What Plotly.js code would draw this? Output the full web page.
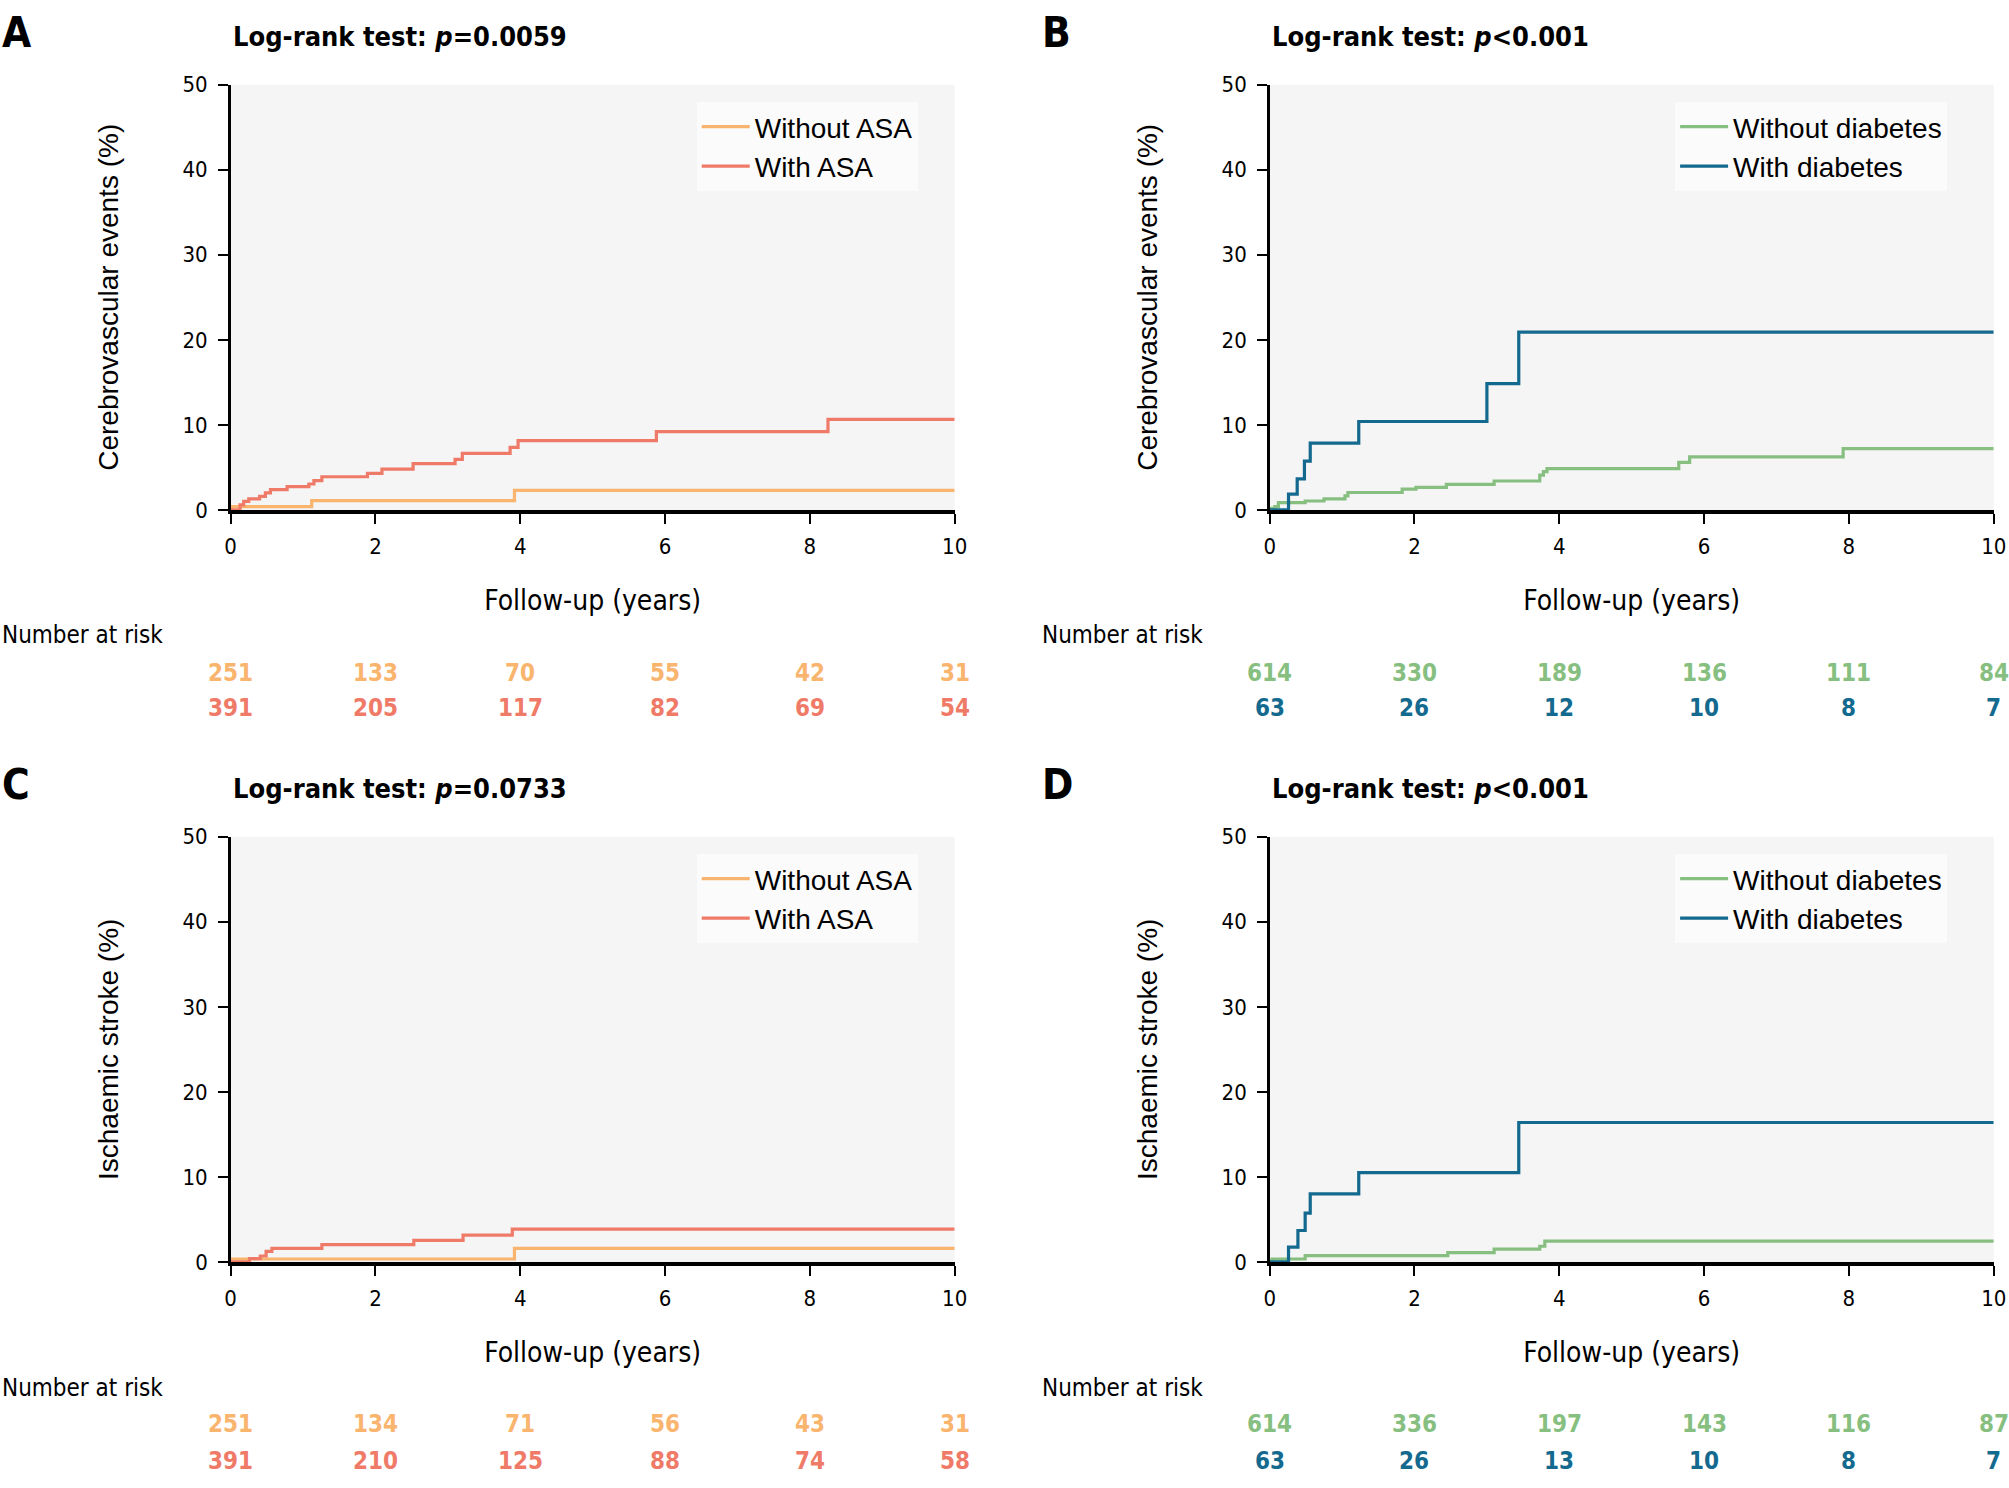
<!DOCTYPE html>
<html>
<head>
<meta charset="utf-8">
<script src="https://cdn.plot.ly/plotly-3.0.1.min.js"></script>
<style>
  html, body { margin: 0; padding: 0; background: #ffffff; }
  #chart { width: 2009px; height: 1488px; }
</style>
</head>
<body>
<div id="chart"></div>
<script>
// ---------- data ----------
const yearTicks = [0, 2, 4, 6, 8, 10];

// Panel A – cerebrovascular events, ASA
const aWithoutX = [0, 0.02, 1.12, 3.92, 10];
const aWithoutY = [0, 0.4, 1.1, 2.3, 2.3];
const aWithX = [0, 0.13, 0.18, 0.25, 0.40, 0.48, 0.55, 0.78, 1.08, 1.15, 1.26, 1.89, 2.09, 2.52, 3.10, 3.20, 3.86, 3.97, 5.88, 8.25, 10];
const aWithY = [0, 0.6, 1.0, 1.3, 1.6, 2.0, 2.4, 2.75, 3.05, 3.45, 3.9, 4.3, 4.8, 5.45, 5.95, 6.65, 7.35, 8.15, 9.2, 10.65, 10.65];

// Panel B – cerebrovascular events, diabetes
const bWithoutX = [0, 0.02, 0.07, 0.12, 0.49, 0.75, 1.04, 1.08, 1.83, 2.02, 2.44, 3.10, 3.73, 3.78, 3.83, 5.65, 5.80, 7.92, 10];
const bWithoutY = [0, 0.2, 0.4, 0.85, 1.05, 1.3, 1.65, 2.05, 2.45, 2.65, 3.0, 3.4, 4.1, 4.5, 4.85, 5.6, 6.25, 7.2, 7.2];
const bWithX = [0, 0.26, 0.38, 0.48, 0.56, 1.23, 3.00, 3.44, 10];
const bWithY = [0, 1.85, 3.65, 5.75, 7.85, 10.4, 14.85, 20.9, 20.9];

// Panel C – ischaemic stroke, ASA
const cWithoutX = [0, 0.02, 3.92, 10];
const cWithoutY = [0, 0.35, 1.6, 1.6];
const cWithX = [0, 0.26, 0.41, 0.49, 0.57, 1.26, 2.53, 3.21, 3.89, 10];
const cWithY = [0, 0.4, 0.7, 1.25, 1.6, 2.05, 2.55, 3.15, 3.85, 3.85];

// Panel D – ischaemic stroke, diabetes
const dWithoutX = [0, 0.03, 0.49, 2.46, 3.10, 3.73, 3.80, 10];
const dWithoutY = [0, 0.35, 0.75, 1.1, 1.5, 1.85, 2.45, 2.45];
const dWithX = [0, 0.26, 0.39, 0.49, 0.56, 1.23, 3.44, 10];
const dWithY = [0, 1.75, 3.7, 5.75, 8.0, 10.5, 16.4, 16.4];

// Numbers at risk
const riskAWithout = [251, 133, 70, 55, 42, 31];
const riskAWith    = [391, 205, 117, 82, 69, 54];
const riskBWithout = [614, 330, 189, 136, 111, 84];
const riskBWith    = [63, 26, 12, 10, 8, 7];
const riskCWithout = [251, 134, 71, 56, 43, 31];
const riskCWith    = [391, 210, 125, 88, 74, 58];
const riskDWithout = [614, 336, 197, 143, 116, 87];
const riskDWith    = [63, 26, 13, 10, 8, 7];

// Text
const panelLetters = ['A', 'B', 'C', 'D'];
const panelTitles = [
  'Log-rank test: <i>p</i>=0.0059',
  'Log-rank test: <i>p</i>&lt;0.001',
  'Log-rank test: <i>p</i>=0.0733',
  'Log-rank test: <i>p</i>&lt;0.001'
];
const yTitles = ['Cerebrovascular events (%)', 'Cerebrovascular events (%)', 'Ischaemic stroke (%)', 'Ischaemic stroke (%)'];
const xTitle = 'Follow-up (years)';
const seriesNames = [['Without ASA', 'With ASA'], ['Without diabetes', 'With diabetes'],
                     ['Without ASA', 'With ASA'], ['Without diabetes', 'With diabetes']];

// ---------- styling ----------
const COL_NOASA = '#F9B46E';
const COL_ASA = '#F07A68';
const COL_NODM = '#86BF80';
const COL_DM = '#13698E';
const COND = '"Liberation Sans Narrow", "DejaVu Sans Condensed", "Arial Narrow", sans-serif';
const SANS = '"Liberation Sans", Arial, sans-serif';

const panels = [
  { wx: aWithoutX, wy: aWithoutY, x: aWithX, y: aWithY, c0: COL_NOASA, c1: COL_ASA, r0: riskAWithout, r1: riskAWith },
  { wx: bWithoutX, wy: bWithoutY, x: bWithX, y: bWithY, c0: COL_NODM, c1: COL_DM, r0: riskBWithout, r1: riskBWith },
  { wx: cWithoutX, wy: cWithoutY, x: cWithX, y: cWithY, c0: COL_NOASA, c1: COL_ASA, r0: riskCWithout, r1: riskCWith },
  { wx: dWithoutX, wy: dWithoutY, x: dWithX, y: dWithY, c0: COL_NODM, c1: COL_DM, r0: riskDWithout, r1: riskDWith }
];

// geometry (paper fractions)
const xDomains = [[0.1148, 0.4752], [0.632, 0.9924]];
const yDomains = [[0.6573, 0.9431], [0.1519, 0.4377]];
const colLeft = [0, 0.5177];
const rowLetterY = [0.978, 0.473];
const rowTitleY = [0.9758, 0.4704];
const rowNarY = [0.573, 0.0675];
const rowRisk0Y = [0.5479, 0.0433];
const rowRisk1Y = [0.5239, 0.0183];
const legendY = [0.9315, 0.4261];
const legendX = [0.3468, 0.8338];

const traces = [];
const layout = {
  width: 2009, height: 1488,
  margin: { l: 0, r: 0, t: 0, b: 0 },
  paper_bgcolor: '#ffffff',
  plot_bgcolor: '#f5f5f5',
  showlegend: true,
  annotations: []
};

panels.forEach((p, i) => {
  const n = i + 1;
  const sfx = n === 1 ? '' : String(n);
  const col = i % 2, row = Math.floor(i / 2);
  const legendId = n === 1 ? 'legend' : 'legend' + n;

  traces.push({
    type: 'scatter', mode: 'lines', x: p.wx, y: p.wy,
    xaxis: 'x' + sfx, yaxis: 'y' + sfx,
    line: { shape: 'hv', color: p.c0, width: 3.2 },
    name: seriesNames[i][0], legend: legendId, hoverinfo: 'skip'
  });
  traces.push({
    type: 'scatter', mode: 'lines', x: p.x, y: p.y,
    xaxis: 'x' + sfx, yaxis: 'y' + sfx,
    line: { shape: 'hv', color: p.c1, width: 3.2 },
    name: seriesNames[i][1], legend: legendId, hoverinfo: 'skip'
  });

  layout['xaxis' + sfx] = {
    domain: xDomains[col], anchor: 'y' + sfx,
    range: [0, 10], tickvals: yearTicks, ticktext: yearTicks.map(String),
    ticks: 'outside', ticklen: 10, tickwidth: 2, tickcolor: '#000',
    showline: true, linecolor: '#000', linewidth: 4,
    showgrid: false, zeroline: false, fixedrange: true,
    ticklabelstandoff: 4,
    tickfont: { family: COND, size: 22, color: '#000' },
    title: { text: xTitle, font: { family: COND, size: 28, color: '#000' }, standoff: 33 }
  };
  layout['yaxis' + sfx] = {
    domain: yDomains[row], anchor: 'x' + sfx,
    range: [0, 50], tickvals: [0, 10, 20, 30, 40, 50],
    ticks: 'outside', ticklen: 10, tickwidth: 2, tickcolor: '#000',
    showline: true, linecolor: '#000', linewidth: 2.5,
    showgrid: false, zeroline: false, fixedrange: true,
    ticklabelstandoff: 6,
    tickfont: { family: COND, size: 22, color: '#000' },
    title: { text: yTitles[i], font: { family: SANS, size: 28, color: '#000' }, standoff: 56 }
  };

  layout[legendId] = {
    x: legendX[col], y: legendY[row], xanchor: 'left', yanchor: 'top',
    xref: 'paper', yref: 'paper',
    bgcolor: '#fbfbfb', borderwidth: 0,
    font: { family: SANS, size: 28, color: '#000' },
    itemwidth: 48, tracegroupgap: 0
  };

  // panel letter
  layout.annotations.push({
    xref: 'paper', yref: 'paper', x: colLeft[col], y: rowLetterY[row],
    xanchor: 'left', yanchor: 'middle', showarrow: false,
    text: panelLetters[i], font: { family: COND, size: 42, color: '#000', weight: 700 }
  });
  // panel title
  layout.annotations.push({
    xref: 'x' + sfx + ' domain', yref: 'paper', x: 0, y: rowTitleY[row],
    xanchor: 'left', yanchor: 'middle', showarrow: false,
    text: panelTitles[i], font: { family: COND, size: 27, color: '#000', weight: 700 }
  });
  // number at risk label
  layout.annotations.push({
    xref: 'paper', yref: 'paper', x: colLeft[col], y: rowNarY[row],
    xanchor: 'left', yanchor: 'middle', showarrow: false,
    text: 'Number at risk', font: { family: COND, size: 24, color: '#000' }
  });
  // risk numbers
  yearTicks.forEach((yr, k) => {
    layout.annotations.push({
      xref: 'x' + sfx, yref: 'paper', x: yr, y: rowRisk0Y[row],
      xanchor: 'center', yanchor: 'middle', showarrow: false,
      text: String(p.r0[k]), font: { family: COND, size: 24, color: p.c0, weight: 700 }
    });
    layout.annotations.push({
      xref: 'x' + sfx, yref: 'paper', x: yr, y: rowRisk1Y[row],
      xanchor: 'center', yanchor: 'middle', showarrow: false,
      text: String(p.r1[k]), font: { family: COND, size: 24, color: p.c1, weight: 700 }
    });
  });
});

Plotly.newPlot('chart', traces, layout, { staticPlot: true, displayModeBar: false });
</script>
</body>
</html>
